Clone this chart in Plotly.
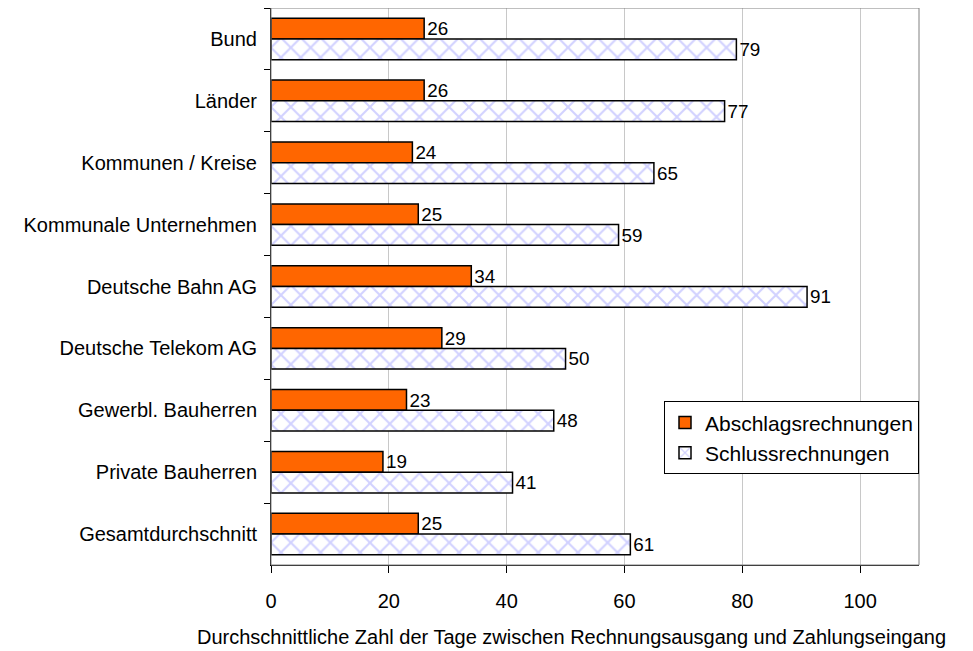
import plotly.graph_objs as go

categories = ["Bund", "Länder", "Kommunen / Kreise", "Kommunale Unternehmen",
              "Deutsche Bahn AG", "Deutsche Telekom AG", "Gewerbl. Bauherren",
              "Private Bauherren", "Gesamtdurchschnitt"]
abschlag = [26, 26, 24, 25, 34, 29, 23, 19, 25]
schluss = [79, 77, 65, 59, 91, 50, 48, 41, 61]
x_ticks = [0, 20, 40, 60, 80, 100]
x_title = "Durchschnittliche Zahl der Tage zwischen Rechnungsausgang und Zahlungseingang"

font = dict(family="Liberation Sans, Arial, sans-serif", size=20, color="black")

bar_a = go.Bar(
    y=categories, x=abschlag, orientation="h",
    name="Abschlagsrechnungen",
    text=abschlag, textposition="outside",
    textfont=font, cliponaxis=False,
    marker=dict(color="#ff6600", line=dict(color="black", width=1.5)),
)
bar_s = go.Bar(
    y=categories, x=schluss, orientation="h",
    name="Schlussrechnungen",
    text=schluss, textposition="outside",
    textfont=font, cliponaxis=False,
    marker=dict(
        color="white",
        line=dict(color="black", width=1.5),
        pattern=dict(shape="x", fgcolor="#a4a4ff", bgcolor="white",
                     size=14, solidity=0.28),
    ),
)

# page body has an 8px margin, so the figure is a bit smaller than the window
layout = go.Layout(
    width=965, height=643,
    margin=dict(l=263, r=54, t=0, b=86),
    paper_bgcolor="white", plot_bgcolor="white",
    font=font,
    barmode="group", bargap=0.33, bargroupgap=0,
    xaxis=dict(
        range=[0, 110], tickvals=x_ticks,
        showgrid=True, gridcolor="#c8c8c8", gridwidth=1,
        ticks="outside", ticklen=7, tickcolor="black",
        showline=True, linecolor="black", linewidth=1,
        zeroline=False, automargin=False,
        ticklabelstandoff=11,
        tickfont=font,
    ),
    yaxis=dict(
        autorange="reversed", automargin=False,
        ticks="outside", ticklen=6, tickcolor="black", tickson="boundaries",
        showline=True, linecolor="black", linewidth=1,
        tickfont=font, ticklabelstandoff=9,
    ),
    legend=dict(
        x=1.0, y=0.294, xanchor="right", yanchor="top",
        bordercolor="black", borderwidth=1, bgcolor="white",
        font=dict(family=font["family"], size=21, color="black"),
        tracegroupgap=0, itemwidth=30,
    ),
    annotations=[dict(text=x_title, xref="paper", yref="paper", x=0.463, y=0,
                      xanchor="center", yanchor="middle", yshift=-72,
                      showarrow=False, font=font)],
    shapes=[dict(type="rect", xref="paper", yref="paper", x0=0, x1=1, y0=0, y1=1,
                 line=dict(color="#808080", width=1))],
)

fig = go.Figure(data=[bar_a, bar_s], layout=layout)
fig.write_html("out.html")
